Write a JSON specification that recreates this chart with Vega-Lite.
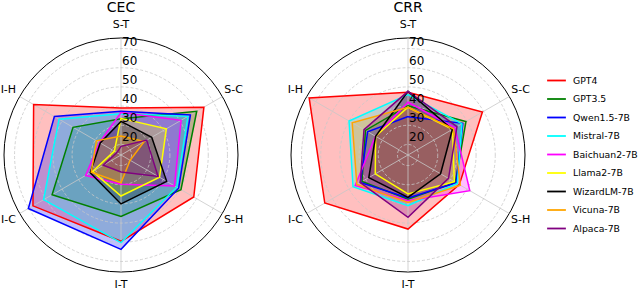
{
  "$schema": "https://vega.github.io/schema/vega-lite/v6.json",
  "autosize": {"type": "pad"},
  "padding": 0,
  "config": {"view": {"stroke": null}, "font": "DejaVu Sans", "text": {"font": "DejaVu Sans"}},
  "bounds": "flush",
  "spacing": 53,
  "datasets": {
    "scores": [
      {"panel": "CEC", "model": "GPT4", "axis": "S-T", "value": 39},
      {"panel": "CEC", "model": "GPT4", "axis": "S-C", "value": 64.4},
      {"panel": "CEC", "model": "GPT4", "axis": "S-H", "value": 58.3},
      {"panel": "CEC", "model": "GPT4", "axis": "I-T", "value": 59.5},
      {"panel": "CEC", "model": "GPT4", "axis": "I-C", "value": 67.5},
      {"panel": "CEC", "model": "GPT4", "axis": "I-H", "value": 67.1},
      {"panel": "CEC", "model": "GPT3.5", "axis": "S-T", "value": 33.4},
      {"panel": "CEC", "model": "GPT3.5", "axis": "S-C", "value": 60.1},
      {"panel": "CEC", "model": "GPT3.5", "axis": "S-H", "value": 50.6},
      {"panel": "CEC", "model": "GPT3.5", "axis": "I-T", "value": 46.5},
      {"panel": "CEC", "model": "GPT3.5", "axis": "I-C", "value": 56},
      {"panel": "CEC", "model": "GPT3.5", "axis": "I-H", "value": 43.4},
      {"panel": "CEC", "model": "Qwen1.5-7B", "axis": "S-T", "value": 37.3},
      {"panel": "CEC", "model": "Qwen1.5-7B", "axis": "S-C", "value": 56.3},
      {"panel": "CEC", "model": "Qwen1.5-7B", "axis": "S-H", "value": 49.2},
      {"panel": "CEC", "model": "Qwen1.5-7B", "axis": "I-T", "value": 63.7},
      {"panel": "CEC", "model": "Qwen1.5-7B", "axis": "I-C", "value": 70.3},
      {"panel": "CEC", "model": "Qwen1.5-7B", "axis": "I-H", "value": 54.6},
      {"panel": "CEC", "model": "Mistral-7B", "axis": "S-T", "value": 36},
      {"panel": "CEC", "model": "Mistral-7B", "axis": "S-C", "value": 54.8},
      {"panel": "CEC", "model": "Mistral-7B", "axis": "S-H", "value": 48.1},
      {"panel": "CEC", "model": "Mistral-7B", "axis": "I-T", "value": 60.2},
      {"panel": "CEC", "model": "Mistral-7B", "axis": "I-C", "value": 61.1},
      {"panel": "CEC", "model": "Mistral-7B", "axis": "I-H", "value": 51.8},
      {"panel": "CEC", "model": "Baichuan2-7B", "axis": "S-T", "value": 36.6},
      {"panel": "CEC", "model": "Baichuan2-7B", "axis": "S-C", "value": 50.7},
      {"panel": "CEC", "model": "Baichuan2-7B", "axis": "S-H", "value": 46.7},
      {"panel": "CEC", "model": "Baichuan2-7B", "axis": "I-T", "value": 29.8},
      {"panel": "CEC", "model": "Baichuan2-7B", "axis": "I-C", "value": 35.8},
      {"panel": "CEC", "model": "Baichuan2-7B", "axis": "I-H", "value": 27.5},
      {"panel": "CEC", "model": "Llama2-7B", "axis": "S-T", "value": 33.6},
      {"panel": "CEC", "model": "Llama2-7B", "axis": "S-C", "value": 41.8},
      {"panel": "CEC", "model": "Llama2-7B", "axis": "S-H", "value": 37.7},
      {"panel": "CEC", "model": "Llama2-7B", "axis": "I-T", "value": 35.9},
      {"panel": "CEC", "model": "Llama2-7B", "axis": "I-C", "value": 31.6},
      {"panel": "CEC", "model": "Llama2-7B", "axis": "I-H", "value": 18.5},
      {"panel": "CEC", "model": "WizardLM-7B", "axis": "S-T", "value": 32},
      {"panel": "CEC", "model": "WizardLM-7B", "axis": "S-C", "value": 33},
      {"panel": "CEC", "model": "WizardLM-7B", "axis": "S-H", "value": 42},
      {"panel": "CEC", "model": "WizardLM-7B", "axis": "I-T", "value": 40},
      {"panel": "CEC", "model": "WizardLM-7B", "axis": "I-C", "value": 33},
      {"panel": "CEC", "model": "WizardLM-7B", "axis": "I-H", "value": 27},
      {"panel": "CEC", "model": "Vicuna-7B", "axis": "S-T", "value": 24.4},
      {"panel": "CEC", "model": "Vicuna-7B", "axis": "S-C", "value": 28.5},
      {"panel": "CEC", "model": "Vicuna-7B", "axis": "S-H", "value": 20},
      {"panel": "CEC", "model": "Vicuna-7B", "axis": "I-T", "value": 29},
      {"panel": "CEC", "model": "Vicuna-7B", "axis": "I-C", "value": 32.4},
      {"panel": "CEC", "model": "Vicuna-7B", "axis": "I-H", "value": 29.3},
      {"panel": "CEC", "model": "Alpaca-7B", "axis": "S-T", "value": 19},
      {"panel": "CEC", "model": "Alpaca-7B", "axis": "S-C", "value": 30},
      {"panel": "CEC", "model": "Alpaca-7B", "axis": "S-H", "value": 36.8},
      {"panel": "CEC", "model": "Alpaca-7B", "axis": "I-T", "value": 23.4},
      {"panel": "CEC", "model": "Alpaca-7B", "axis": "I-C", "value": 25.2},
      {"panel": "CEC", "model": "Alpaca-7B", "axis": "I-H", "value": 17},
      {"panel": "CRR", "model": "GPT4", "axis": "S-T", "value": 47.2},
      {"panel": "CRR", "model": "GPT4", "axis": "S-C", "value": 59.3},
      {"panel": "CRR", "model": "GPT4", "axis": "S-H", "value": 45.4},
      {"panel": "CRR", "model": "GPT4", "axis": "I-T", "value": 53.1},
      {"panel": "CRR", "model": "GPT4", "axis": "I-C", "value": 64.6},
      {"panel": "CRR", "model": "GPT4", "axis": "I-H", "value": 74},
      {"panel": "CRR", "model": "GPT3.5", "axis": "S-T", "value": 40.2},
      {"panel": "CRR", "model": "GPT3.5", "axis": "S-C", "value": 49.4},
      {"panel": "CRR", "model": "GPT3.5", "axis": "S-H", "value": 43},
      {"panel": "CRR", "model": "GPT3.5", "axis": "I-T", "value": 37.5},
      {"panel": "CRR", "model": "GPT3.5", "axis": "I-C", "value": 42.2},
      {"panel": "CRR", "model": "GPT3.5", "axis": "I-H", "value": 40.1},
      {"panel": "CRR", "model": "Qwen1.5-7B", "axis": "S-T", "value": 34.5},
      {"panel": "CRR", "model": "Qwen1.5-7B", "axis": "S-C", "value": 47.5},
      {"panel": "CRR", "model": "Qwen1.5-7B", "axis": "S-H", "value": 43.5},
      {"panel": "CRR", "model": "Qwen1.5-7B", "axis": "I-T", "value": 36.9},
      {"panel": "CRR", "model": "Qwen1.5-7B", "axis": "I-C", "value": 43.2},
      {"panel": "CRR", "model": "Qwen1.5-7B", "axis": "I-H", "value": 38.8},
      {"panel": "CRR", "model": "Mistral-7B", "axis": "S-T", "value": 46},
      {"panel": "CRR", "model": "Mistral-7B", "axis": "S-C", "value": 47},
      {"panel": "CRR", "model": "Mistral-7B", "axis": "S-H", "value": 44.2},
      {"panel": "CRR", "model": "Mistral-7B", "axis": "I-T", "value": 40.9},
      {"panel": "CRR", "model": "Mistral-7B", "axis": "I-C", "value": 47.6},
      {"panel": "CRR", "model": "Mistral-7B", "axis": "I-H", "value": 50},
      {"panel": "CRR", "model": "Baichuan2-7B", "axis": "S-T", "value": 42},
      {"panel": "CRR", "model": "Baichuan2-7B", "axis": "S-C", "value": 42.8},
      {"panel": "CRR", "model": "Baichuan2-7B", "axis": "S-H", "value": 51.7},
      {"panel": "CRR", "model": "Baichuan2-7B", "axis": "I-T", "value": 38.3},
      {"panel": "CRR", "model": "Baichuan2-7B", "axis": "I-C", "value": 46.3},
      {"panel": "CRR", "model": "Baichuan2-7B", "axis": "I-H", "value": 34.1},
      {"panel": "CRR", "model": "Llama2-7B", "axis": "S-T", "value": 39.4},
      {"panel": "CRR", "model": "Llama2-7B", "axis": "S-C", "value": 41.3},
      {"panel": "CRR", "model": "Llama2-7B", "axis": "S-H", "value": 42.4},
      {"panel": "CRR", "model": "Llama2-7B", "axis": "I-T", "value": 34.8},
      {"panel": "CRR", "model": "Llama2-7B", "axis": "I-C", "value": 34.2},
      {"panel": "CRR", "model": "Llama2-7B", "axis": "I-H", "value": 34},
      {"panel": "CRR", "model": "WizardLM-7B", "axis": "S-T", "value": 47.7},
      {"panel": "CRR", "model": "WizardLM-7B", "axis": "S-C", "value": 41.2},
      {"panel": "CRR", "model": "WizardLM-7B", "axis": "S-H", "value": 34.1},
      {"panel": "CRR", "model": "WizardLM-7B", "axis": "I-T", "value": 36.6},
      {"panel": "CRR", "model": "WizardLM-7B", "axis": "I-C", "value": 38.1},
      {"panel": "CRR", "model": "WizardLM-7B", "axis": "I-H", "value": 34},
      {"panel": "CRR", "model": "Vicuna-7B", "axis": "S-T", "value": 39.4},
      {"panel": "CRR", "model": "Vicuna-7B", "axis": "S-C", "value": 41.9},
      {"panel": "CRR", "model": "Vicuna-7B", "axis": "S-H", "value": 46},
      {"panel": "CRR", "model": "Vicuna-7B", "axis": "I-T", "value": 39.2},
      {"panel": "CRR", "model": "Vicuna-7B", "axis": "I-C", "value": 45.3},
      {"panel": "CRR", "model": "Vicuna-7B", "axis": "I-H", "value": 48.1},
      {"panel": "CRR", "model": "Alpaca-7B", "axis": "S-T", "value": 47.7},
      {"panel": "CRR", "model": "Alpaca-7B", "axis": "S-C", "value": 44},
      {"panel": "CRR", "model": "Alpaca-7B", "axis": "S-H", "value": 38.9},
      {"panel": "CRR", "model": "Alpaca-7B", "axis": "I-T", "value": 47},
      {"panel": "CRR", "model": "Alpaca-7B", "axis": "I-C", "value": 43.2},
      {"panel": "CRR", "model": "Alpaca-7B", "axis": "I-H", "value": 41}
    ],
    "grid": [{"v": 20}, {"v": 30}, {"v": 40}, {"v": 50}, {"v": 60}, {"v": 70}],
    "rim": [{"v": 75.5}],
    "axes": [{"axis": "S-T"}, {"axis": "S-C"}, {"axis": "S-H"}, {"axis": "I-T"}, {"axis": "I-C"}, {"axis": "I-H"}]
  },
  "hconcat": [
    {
      "width": 234,
      "height": 234,
      "title": {"text": "CEC", "fontSize": 14, "fontWeight": "normal", "font": "DejaVu Sans", "frame": "group", "offset": 4},
      "layer": [
        {
          "data": {"name": "scores"},
          "transform": [
            {"filter": "datum.panel === 'CEC'"},
            {"calculate": "indexof(['S-T','S-C','S-H','I-T','I-C','I-H'], datum.axis)", "as": "idx"},
            {"calculate": "(datum.value - 14.5) * sin(datum.idx * PI / 3)", "as": "px"},
            {"calculate": "(datum.value - 14.5) * cos(datum.idx * PI / 3)", "as": "py"}
          ],
          "mark": {"type": "line", "interpolate": "linear-closed", "strokeOpacity": 0, "fillOpacity": 0.25},
          "encoding": {
            "x": {"field": "px", "type": "quantitative", "scale": {"domain": [-61, 61], "nice": false, "zero": false}, "axis": null},
            "y": {"field": "py", "type": "quantitative", "scale": {"domain": [-61, 61], "nice": false, "zero": false}, "axis": null},
            "fill": {"field": "model", "type": "nominal", "scale": {"range": ["#800080", "#ff00ff", "#008000", "#ff0000", "#ffff00", "#00ffff", "#0000ff", "#ffa500", "#000000"]}, "legend": null},
            "order": {"field": "idx", "type": "quantitative"}
          }
        },
        {
          "data": {"name": "grid"},
          "transform": [{"calculate": "datum.v - 14.5", "as": "d"}, {"calculate": "0", "as": "ox"}],
          "mark": {"type": "point", "shape": "circle", "filled": false, "stroke": "#c8c8c8", "strokeWidth": 0.8, "strokeDash": [3, 2], "opacity": 1},
          "encoding": {
            "x": {"field": "ox", "type": "quantitative"},
            "y": {"field": "ox", "type": "quantitative"},
            "size": {"field": "d", "type": "quantitative", "scale": {"type": "pow", "exponent": 2, "domain": [0, 61], "range": [0, 54756], "zero": true}, "legend": null}
          }
        },
        {
          "data": {"name": "rim"},
          "transform": [{"calculate": "datum.v - 14.5", "as": "d"}, {"calculate": "0", "as": "ox"}],
          "mark": {"type": "point", "shape": "circle", "filled": false, "stroke": "#000000", "strokeWidth": 1, "opacity": 1},
          "encoding": {
            "x": {"field": "ox", "type": "quantitative"},
            "y": {"field": "ox", "type": "quantitative"},
            "size": {"field": "d", "type": "quantitative", "scale": {"type": "pow", "exponent": 2, "domain": [0, 61], "range": [0, 54756], "zero": true}, "legend": null}
          }
        },
        {
          "data": {"name": "axes"},
          "transform": [
            {"calculate": "indexof(['S-T','S-C','S-H','I-T','I-C','I-H'], datum.axis)", "as": "idx"},
            {"calculate": "61 * sin(datum.idx * PI / 3)", "as": "ex"},
            {"calculate": "61 * cos(datum.idx * PI / 3)", "as": "ey"},
            {"calculate": "0", "as": "ox"}
          ],
          "mark": {"type": "rule", "color": "#c8c8c8", "strokeWidth": 0.8},
          "encoding": {
            "x": {"field": "ox", "type": "quantitative"},
            "y": {"field": "ox", "type": "quantitative"},
            "x2": {"field": "ex"},
            "y2": {"field": "ey"}
          }
        },
        {
          "data": {"name": "scores"},
          "transform": [
            {"filter": "datum.panel === 'CEC'"},
            {"calculate": "indexof(['S-T','S-C','S-H','I-T','I-C','I-H'], datum.axis)", "as": "idx"},
            {"calculate": "(datum.value - 14.5) * sin(datum.idx * PI / 3)", "as": "px"},
            {"calculate": "(datum.value - 14.5) * cos(datum.idx * PI / 3)", "as": "py"}
          ],
          "mark": {"type": "line", "interpolate": "linear-closed", "strokeWidth": 1.5},
          "encoding": {
            "x": {"field": "px", "type": "quantitative"},
            "y": {"field": "py", "type": "quantitative"},
            "color": {"field": "model", "type": "nominal", "scale": {"domain": ["GPT4", "GPT3.5", "Qwen1.5-7B", "Mistral-7B", "Baichuan2-7B", "Llama2-7B", "WizardLM-7B", "Vicuna-7B", "Alpaca-7B"], "range": ["#ff0000", "#008000", "#0000ff", "#00ffff", "#ff00ff", "#ffff00", "#000000", "#ffa500", "#800080"]},
              "legend": {"title": null, "orient": "none", "legendX": 542, "legendY": 32, "padding": 0, "symbolType": "stroke", "symbolStrokeWidth": 1.8, "symbolSize": 352, "labelFontSize": 9.3, "labelFont": "DejaVu Sans", "labelColor": "#000000", "labelLimit": 200, "rowPadding": 2.5, "labelOffset": 6}},
            "order": {"field": "idx", "type": "quantitative"}
          }
        },
        {
          "data": {"name": "grid"},
          "transform": [{"calculate": "datum.v - 14.5", "as": "ty"}, {"calculate": "0", "as": "ox"}],
          "mark": {"type": "text", "align": "left", "baseline": "middle", "dx": 1, "dy": -7, "fontSize": 12, "color": "#000000"},
          "encoding": {"x": {"field": "ox", "type": "quantitative"}, "y": {"field": "ty", "type": "quantitative"}, "text": {"field": "v"}}
        },
        {
          "data": {"name": "axes"},
          "transform": [
            {"calculate": "indexof(['S-T','S-C','S-H','I-T','I-C','I-H'], datum.axis)", "as": "idx"},
            {"calculate": "67.8 * sin(datum.idx * PI / 3)", "as": "lx"},
            {"calculate": "67.8 * cos(datum.idx * PI / 3)", "as": "ly"}
          ],
          "mark": {"type": "text", "align": "center", "baseline": "middle", "fontSize": 11, "color": "#000000"},
          "encoding": {"x": {"field": "lx", "type": "quantitative"}, "y": {"field": "ly", "type": "quantitative"}, "text": {"field": "axis"}}
        }
      ]
    },
    {
      "width": 234,
      "height": 234,
      "title": {"text": "CRR", "fontSize": 14, "fontWeight": "normal", "font": "DejaVu Sans", "frame": "group", "offset": 4},
      "layer": [
        {
          "data": {"name": "scores"},
          "transform": [
            {"filter": "datum.panel === 'CRR'"},
            {"calculate": "indexof(['S-T','S-C','S-H','I-T','I-C','I-H'], datum.axis)", "as": "idx"},
            {"calculate": "(datum.value - 14.5) * sin(datum.idx * PI / 3)", "as": "px"},
            {"calculate": "(datum.value - 14.5) * cos(datum.idx * PI / 3)", "as": "py"}
          ],
          "mark": {"type": "line", "interpolate": "linear-closed", "strokeOpacity": 0, "fillOpacity": 0.25},
          "encoding": {
            "x": {"field": "px", "type": "quantitative", "scale": {"domain": [-61, 61], "nice": false, "zero": false}, "axis": null},
            "y": {"field": "py", "type": "quantitative", "scale": {"domain": [-61, 61], "nice": false, "zero": false}, "axis": null},
            "fill": {"field": "model", "type": "nominal", "scale": {"range": ["#800080", "#ff00ff", "#008000", "#ff0000", "#ffff00", "#00ffff", "#0000ff", "#ffa500", "#000000"]}, "legend": null},
            "order": {"field": "idx", "type": "quantitative"}
          }
        },
        {
          "data": {"name": "grid"},
          "transform": [{"calculate": "datum.v - 14.5", "as": "d"}, {"calculate": "0", "as": "ox"}],
          "mark": {"type": "point", "shape": "circle", "filled": false, "stroke": "#c8c8c8", "strokeWidth": 0.8, "strokeDash": [3, 2], "opacity": 1},
          "encoding": {
            "x": {"field": "ox", "type": "quantitative"},
            "y": {"field": "ox", "type": "quantitative"},
            "size": {"field": "d", "type": "quantitative", "scale": {"type": "pow", "exponent": 2, "domain": [0, 61], "range": [0, 54756], "zero": true}, "legend": null}
          }
        },
        {
          "data": {"name": "rim"},
          "transform": [{"calculate": "datum.v - 14.5", "as": "d"}, {"calculate": "0", "as": "ox"}],
          "mark": {"type": "point", "shape": "circle", "filled": false, "stroke": "#000000", "strokeWidth": 1, "opacity": 1},
          "encoding": {
            "x": {"field": "ox", "type": "quantitative"},
            "y": {"field": "ox", "type": "quantitative"},
            "size": {"field": "d", "type": "quantitative", "scale": {"type": "pow", "exponent": 2, "domain": [0, 61], "range": [0, 54756], "zero": true}, "legend": null}
          }
        },
        {
          "data": {"name": "axes"},
          "transform": [
            {"calculate": "indexof(['S-T','S-C','S-H','I-T','I-C','I-H'], datum.axis)", "as": "idx"},
            {"calculate": "61 * sin(datum.idx * PI / 3)", "as": "ex"},
            {"calculate": "61 * cos(datum.idx * PI / 3)", "as": "ey"},
            {"calculate": "0", "as": "ox"}
          ],
          "mark": {"type": "rule", "color": "#c8c8c8", "strokeWidth": 0.8},
          "encoding": {
            "x": {"field": "ox", "type": "quantitative"},
            "y": {"field": "ox", "type": "quantitative"},
            "x2": {"field": "ex"},
            "y2": {"field": "ey"}
          }
        },
        {
          "data": {"name": "scores"},
          "transform": [
            {"filter": "datum.panel === 'CRR'"},
            {"calculate": "indexof(['S-T','S-C','S-H','I-T','I-C','I-H'], datum.axis)", "as": "idx"},
            {"calculate": "(datum.value - 14.5) * sin(datum.idx * PI / 3)", "as": "px"},
            {"calculate": "(datum.value - 14.5) * cos(datum.idx * PI / 3)", "as": "py"}
          ],
          "mark": {"type": "line", "interpolate": "linear-closed", "strokeWidth": 1.5},
          "encoding": {
            "x": {"field": "px", "type": "quantitative"},
            "y": {"field": "py", "type": "quantitative"},
            "color": {"field": "model", "type": "nominal", "scale": {"domain": ["GPT4", "GPT3.5", "Qwen1.5-7B", "Mistral-7B", "Baichuan2-7B", "Llama2-7B", "WizardLM-7B", "Vicuna-7B", "Alpaca-7B"], "range": ["#ff0000", "#008000", "#0000ff", "#00ffff", "#ff00ff", "#ffff00", "#000000", "#ffa500", "#800080"]},
              "legend": {"title": null, "orient": "none", "legendX": 542, "legendY": 32, "padding": 0, "symbolType": "stroke", "symbolStrokeWidth": 1.8, "symbolSize": 352, "labelFontSize": 9.3, "labelFont": "DejaVu Sans", "labelColor": "#000000", "labelLimit": 200, "rowPadding": 2.5, "labelOffset": 6}},
            "order": {"field": "idx", "type": "quantitative"}
          }
        },
        {
          "data": {"name": "grid"},
          "transform": [{"calculate": "datum.v - 14.5", "as": "ty"}, {"calculate": "0", "as": "ox"}],
          "mark": {"type": "text", "align": "left", "baseline": "middle", "dx": 1, "dy": -7, "fontSize": 12, "color": "#000000"},
          "encoding": {"x": {"field": "ox", "type": "quantitative"}, "y": {"field": "ty", "type": "quantitative"}, "text": {"field": "v"}}
        },
        {
          "data": {"name": "axes"},
          "transform": [
            {"calculate": "indexof(['S-T','S-C','S-H','I-T','I-C','I-H'], datum.axis)", "as": "idx"},
            {"calculate": "67.8 * sin(datum.idx * PI / 3)", "as": "lx"},
            {"calculate": "67.8 * cos(datum.idx * PI / 3)", "as": "ly"}
          ],
          "mark": {"type": "text", "align": "center", "baseline": "middle", "fontSize": 11, "color": "#000000"},
          "encoding": {"x": {"field": "lx", "type": "quantitative"}, "y": {"field": "ly", "type": "quantitative"}, "text": {"field": "axis"}}
        }
      ]
    }
  ]
}
